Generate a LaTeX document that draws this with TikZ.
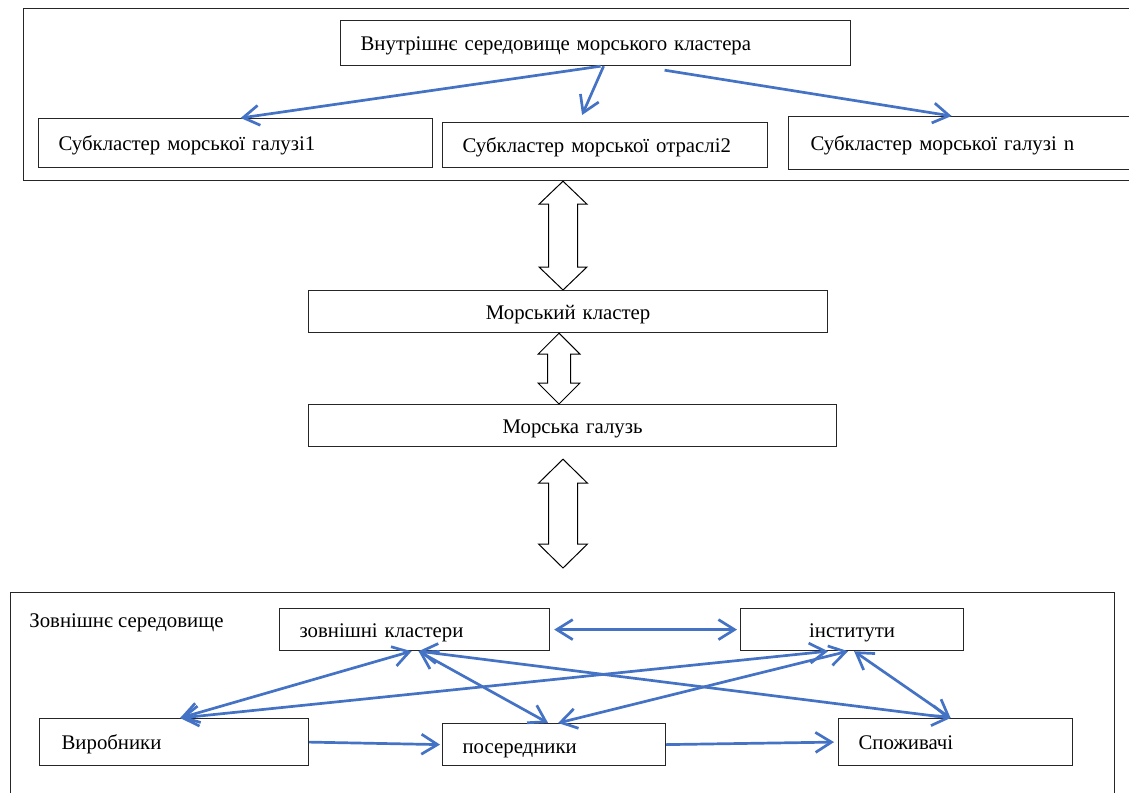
\documentclass[tikz,border=0pt]{standalone}
\usepackage{fontspec}
\setmainfont{Liberation Serif}
\usetikzlibrary{arrows.meta,calc}
\definecolor{linkblue}{RGB}{68,114,196}
\tikzset{
  frame/.style={draw=black!85,line width=0.6pt,anchor=north west,inner sep=0pt},
  box/.style={draw=black!85,line width=0.6pt,inner xsep=10pt,inner ysep=0pt,
    align=left,anchor=north west,text height=9.5pt,text depth=2pt,
    font=\fontsize{10.4pt}{12.5pt}\selectfont},
  boxc/.style={box,align=center},
  lbl/.style={anchor=west,inner sep=0pt,font=\fontsize{10.4pt}{12.5pt}\selectfont},
  lnk/.style={-{Straight Barb[length=8pt,width=10pt]},draw=linkblue,line width=1.35pt},
  lnkb/.style={lnk,{Straight Barb[length=8pt,width=10pt]}-{Straight Barb[length=8pt,width=10pt]}},
  bigarr/.style={draw=black,line width=0.5pt,fill=white,line join=miter},
}
% hollow two-way arrow: tip, tip, head half width, shaft half width, head length
\newcommand{\bigarrow}[5]{%
  \draw[bigarr] (#1) -- ++(#3,#5) -- ++({#4-#3},0) -- ($(#2)+(#4,-#5)$)
    -- ++({#3-#4},0) -- (#2) -- ++(-#3,-#5) -- ++({#3-#4},0)
    -- ($(#1)+(-#4,#5)$) -- ++({#4-#3},0) -- cycle;}

\begin{document}
\begin{tikzpicture}[x=0.5pt,y=-0.5pt]
  \useasboundingbox (0,0) rectangle (1129,792);

  % inner environment
  \node[frame,minimum width=560pt,minimum height=86pt](inenv) at (23,8) {};
  \node[box,text width=235pt,minimum height=22.5pt](hdr) at (340,20)
    {Внутрішнє середовище морського кластера};
  \node[box,text width=177pt,minimum height=24.5pt](sub1) at (38,118)
    {Субкластер морської галузі1};
  \node[box,text width=142.5pt,minimum height=22.5pt](sub2) at (442,122)
    {Субкластер морської отраслі2};
  \node[box,inner xsep=11pt,text width=150pt,minimum height=26.5pt](subn) at (788,116)
    {Субкластер морської галузі n};

  \draw[lnk]([xshift=2.5pt]hdr.south) -- ([xshift=2.5pt]sub1.north);
  \draw[lnk]([xshift=4pt]hdr.south) -- ([shift={(-23,-7)}]sub2.north);
  \draw[lnk]([shift={(69,4)}]hdr.south) -- ([xshift=-4.5pt]subn.north);

  % cluster and branch
  \node[boxc,text width=239.5pt,minimum height=21pt](klaster) at (308,290) {Морський кластер};
  \node[boxc,text width=244pt,minimum height=21pt](galuz) at (308,404) {Морська галузь};

  % outer environment
  \node[frame,minimum width=552pt,minimum height=110pt](outenv) at (10,592) {};
  \node[lbl](outlbl) at (29,623) {Зовнішнє середовище};
  \node[box,text width=115pt,minimum height=21pt](zk) at (279,608) {зовнішні кластери};
  \node[boxc,text width=91.5pt,minimum height=21pt](inst) at (740,608) {інститути};
  \node[box,inner xsep=11pt,text width=112.5pt,minimum height=23.5pt](vyr) at (39,718) {Виробники};
  \node[box,text width=91.5pt,minimum height=21pt,text height=10.5pt](pos) at (442,723) {посередники};
  \node[box,text width=97pt,minimum height=23.5pt](spo) at (838,718) {Споживачі};

  % hollow arrows
  \coordinate (axis) at (563,0);
  \coordinate (axis2) at (559,0);
  \coordinate (a1t) at (inenv.south -| axis);
  \coordinate (a1b) at (klaster.north -| axis);
  \coordinate (a2t) at (klaster.south -| axis2);
  \coordinate (a2b) at (galuz.north -| axis2);
  \coordinate (a3t) at ($(galuz.south -| axis)+(0,12)$);
  \coordinate (a3b) at ($(outenv.north -| axis)+(0,-24)$);
  \bigarrow{a1t}{a1b}{24}{14.5}{23}
  \bigarrow{a2t}{a2b}{21}{11.5}{21}
  \bigarrow{a3t}{a3b}{24.5}{14.5}{24}

  % links outside
  \draw[lnkb]([xshift=2pt]zk.east) -- ([xshift=-1.5pt]inst.west);
  \draw[lnkb]([xshift=3pt]vyr.north) -- ([xshift=-1.5pt]zk.south);
  \draw[lnkb]([xshift=3pt]vyr.north) -- ([xshift=-12pt]inst.south);
  \draw[lnkb]([xshift=2pt]zk.south) -- ([xshift=-3pt]pos.north);
  \draw[lnkb]([xshift=2pt]zk.south) -- ([xshift=-2.5pt]spo.north);
  \draw[lnkb]([xshift=2pt]pos.north) -- ([xshift=-2pt]inst.south);
  \draw[lnkb]([xshift=1pt]inst.south) -- ([xshift=-2.5pt]spo.north);
  \draw[lnk](vyr.east) -- ([xshift=-1pt]pos.west);
  \draw[lnk](pos.east) -- ([xshift=-2pt]spo.west);
\end{tikzpicture}
\end{document}
